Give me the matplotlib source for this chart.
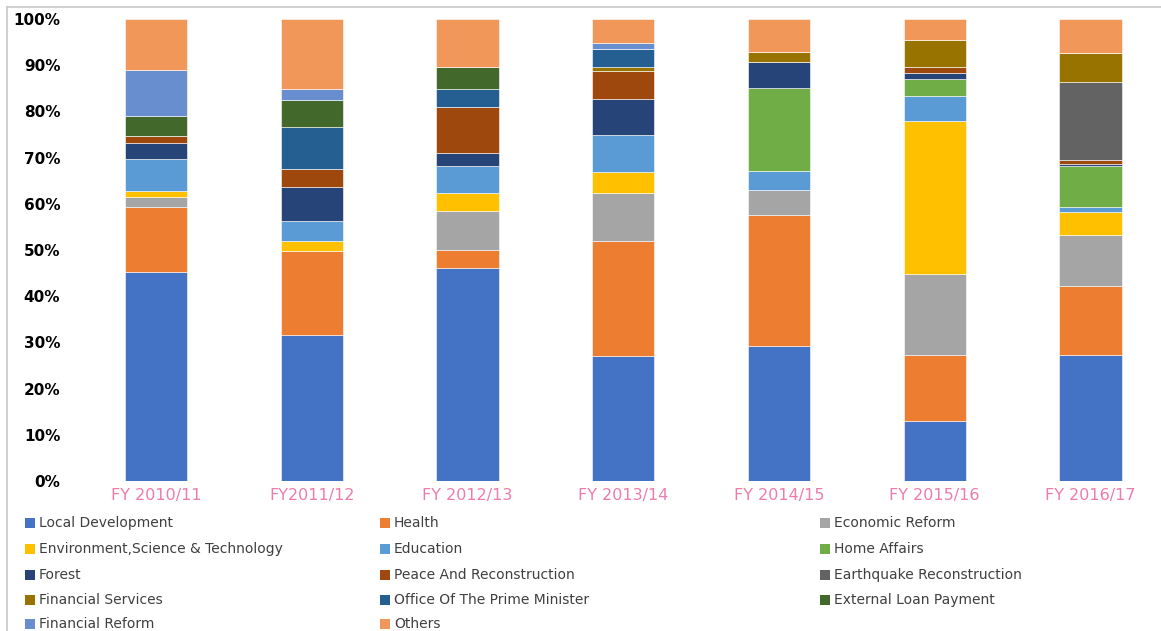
import matplotlib.pyplot as plt
from matplotlib.patches import Rectangle
from matplotlib.lines import Line2D
import numpy as np

# fiscal years on the x axis
years = ["FY 2010/11", "FY2011/12", "FY 2012/13", "FY 2013/14",
         "FY 2014/15", "FY 2015/16", "FY 2016/17"]

# share of each ministry per year (%), bottom to top of each stack
local_development = [45.2, 31.5, 46.2, 27.0, 29.2, 13.0, 27.3]
health            = [14.2, 18.2,  3.9, 24.9, 28.3, 14.3, 15.0]
economic_reform   = [ 2.0,  0.0,  8.3, 10.4,  5.5, 17.6, 10.9]
environment_st    = [ 1.4,  2.3,  4.0,  4.6,  0.0, 33.1,  5.0]
education         = [ 7.0,  4.2,  5.8,  8.1,  4.2,  5.4,  1.0]
home_affairs      = [ 0.0,  0.0,  0.0,  0.0, 17.9,  3.6,  9.0]
forest            = [ 3.3,  7.4,  2.9,  7.7,  5.5,  1.3,  0.5]
peace_reconstr    = [ 1.6,  3.9,  9.8,  6.0,  0.0,  1.3,  0.8]
earthquake_reconstr = [0.0, 0.0,  0.0,  0.0,  0.0,  0.0, 16.9]
financial_services = [0.0,  0.0,  0.0,  0.9,  2.3,  5.9,  6.2]
prime_minister    = [ 0.0,  9.1,  3.9,  3.9,  0.0,  0.0,  0.0]
external_loan     = [ 4.2,  5.9,  4.9,  0.0,  0.0,  0.0,  0.0]
financial_reform  = [10.1,  2.3,  0.0,  1.2,  0.0,  0.0,  0.0]
others            = [11.0, 15.2, 10.3,  5.3,  7.1,  4.5,  7.4]

series = [
    ("Local Development", local_development, "#4472C4"),
    ("Health", health, "#ED7D31"),
    ("Economic Reform", economic_reform, "#A5A5A5"),
    ("Environment,Science & Technology", environment_st, "#FFC000"),
    ("Education", education, "#5B9BD5"),
    ("Home Affairs", home_affairs, "#70AD47"),
    ("Forest", forest, "#264478"),
    ("Peace And Reconstruction", peace_reconstr, "#9E480E"),
    ("Earthquake Reconstruction", earthquake_reconstr, "#636363"),
    ("Financial Services", financial_services, "#997300"),
    ("Office Of The Prime Minister", prime_minister, "#255E91"),
    ("External Loan Payment", external_loan, "#43682B"),
    ("Financial Reform", financial_reform, "#698ED0"),
    ("Others", others, "#F1975A"),
]

W, H = 1161, 631
fig = plt.figure(figsize=(W / 100, H / 100), dpi=100)

# plot area in pixels: x 70..1161, y 19..481
ax = fig.add_axes([70 / W, (H - 481) / H, (W - 70) / W, (481 - 19) / H])

x = np.arange(len(years))
bottom = np.zeros(len(years))
for name, vals, col in series:
    vals = np.array(vals)
    ax.bar(x, vals, width=0.4, bottom=bottom, color=col,
           edgecolor="white", linewidth=0.4)
    bottom += vals

ax.set_ylim(0, 100)
ax.set_xlim((70 - 156) / 155.75, (W - 156) / 155.75)
ax.set_yticks(range(0, 101, 10))
ax.set_yticklabels([f"{v}%" for v in range(0, 101, 10)],
                   fontsize=11, fontweight="bold", color="black")
ax.set_xticks(x)
ax.set_xticklabels(years, fontsize=11.5, color="#EE7BAE")
ax.tick_params(axis="both", length=0)
ax.tick_params(axis="y", pad=7)
ax.tick_params(axis="x", pad=5)
for s in ax.spines.values():
    s.set_visible(False)

# chart border (top and left visible)
fig.add_artist(Line2D([7 / W, 7 / W], [0, (H - 7) / H],
                      color="#C8C8C8", lw=1.2, transform=fig.transFigure))
fig.add_artist(Line2D([7 / W, 1], [(H - 7) / H, (H - 7) / H],
                      color="#C8C8C8", lw=1.2, transform=fig.transFigure))

# legend, three columns laid out row by row
col_x = [25, 380, 820]
row_y = [523, 549, 575, 600, 624]
for i, (name, vals, col) in enumerate(series):
    cx = col_x[i % 3]
    cy = row_y[i // 3]
    fig.add_artist(Rectangle((cx / W, (H - cy - 5) / H), 10 / W, 10 / H,
                             facecolor=col, edgecolor="none",
                             transform=fig.transFigure))
    fig.text((cx + 14) / W, (H - cy) / H, name, fontsize=10,
             color="#404040", va="center", ha="left")

fig.savefig("out.png", dpi=100)
